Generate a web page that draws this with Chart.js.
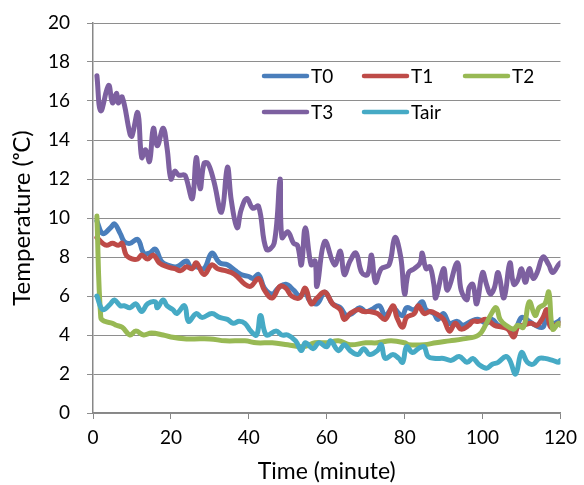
<!DOCTYPE html>
<html>
<head>
<meta charset="utf-8">
<script src="https://cdn.jsdelivr.net/npm/chart.js@4.4.1/dist/chart.umd.min.js"></script>
<style>
  html, body { margin: 0; padding: 0; background: #fff; }
  #wrap { position: relative; width: 584px; height: 485px; }
</style>
</head>
<body>
<div id="wrap"><canvas id="c" width="584" height="485"></canvas></div>
<script>
// ---- Data ----
const seriesNames = ["T0", "T1", "T2", "T3", "Tair"];
const xTicks = [0, 20, 40, 60, 80, 100, 120];
const yTicks = [0, 2, 4, 6, 8, 10, 12, 14, 16, 18, 20];

const t0Time = [1,2.5,4.5,5.5,7,8,9.5,11.5,13,14.5,16,17.5,19,21.5,24,25,26.5,28.5,30.5,32.5,34.5,36.5,38,40,41,42.5,44,46,47.5,49.5,51.5,53,54.5,55.5,57.5,59.5,61.5,63.5,65,66.5,68.5,70,71.5,73.5,75,77,78.5,79.5,80.5,82.5,84.5,85.5,87.5,88.5,90,91.5,93.5,95,97,99,101,102.5,104,106,108,110,112,113.5,115.5,116.5,118,119.5,120];
const t0Vals = [9.85,9.2,9.5,9.7,9.2,8.8,8.7,8.9,8.2,8.2,8.4,7.8,7.6,7.5,7.8,7.5,7.5,7.4,8.2,7.7,7.6,7.3,7.1,7.0,6.9,7.1,6.4,6.1,6.4,6.6,6.3,6.0,6.2,5.8,5.6,6.2,5.6,5.4,5.0,5.1,5.4,5.2,5.3,5.5,5.0,5.4,5.1,5.0,5.4,5.3,5.7,5.3,5.1,4.8,5.1,4.6,4.7,4.5,4.7,4.8,4.6,4.8,4.5,4.4,4.1,4.9,4.7,4.5,4.4,5.0,4.6,4.7,4.8];

const t1Time = [1,2.5,3.5,5,6.5,7.5,8.5,10,11.5,12.5,14,15.5,17,19,21,22.5,24,25.5,26.5,28.5,30.5,32,34,35.5,37,39,40.5,42.5,44,46,48,49.5,51,53,54.5,56,57.5,59.5,61.5,63.5,64.5,66,68,69.5,71,73,75,77,78,79.5,80.5,82.5,83.5,85,86.5,88,90,91.5,93,94.5,96.5,97.5,99,101,103,105,106.5,108,109,110.5,112.5,114,115.5,116.5,117.5,119.5,120];
const t1Vals = [9.0,8.7,8.6,8.7,8.6,8.7,8.1,7.9,7.9,8.1,7.9,8.1,7.7,7.5,7.4,7.3,7.5,7.4,7.7,7.1,7.6,7.4,7.3,7.2,7.0,6.6,6.5,6.9,6.3,5.9,6.5,6.4,6.0,5.9,6.4,5.6,5.9,6.2,5.6,5.3,4.8,5.1,5.3,5.2,5.2,5.1,4.8,5.5,4.9,4.4,4.9,5.1,5.5,5.1,5.2,5.1,4.8,4.2,4.6,4.3,4.5,4.7,4.7,4.8,4.5,4.4,4.3,3.9,4.4,4.5,4.6,4.5,4.9,5.3,4.4,4.6,4.6];

const t2Time = [1,2,3,5,6,7.5,9.5,11,13,15,18,20,24,26,30,34,39,42,46,50,54,57,60,63,66,70,73,76.5,80,81,85,88,91.5,95,99,101,102,103.5,104.5,106,108,109,110.5,112,113.5,114.5,116,117,118,119.5,120];
const t2Vals = [10.1,4.9,4.7,4.6,4.5,4.4,4.0,4.2,4.0,4.1,4.0,3.9,3.8,3.8,3.8,3.7,3.7,3.6,3.6,3.5,3.4,3.6,3.6,3.7,3.5,3.6,3.6,3.7,3.6,3.5,3.5,3.6,3.7,3.8,4.0,4.6,5.0,5.4,4.8,4.5,4.3,4.5,4.4,5.7,5.0,5.4,5.6,6.2,4.3,4.6,4.5];

const t3Time = [1,2,4,5,6,6.5,7.5,9.5,10,11.5,12.5,13.5,14.5,15.5,16.5,18,19,20,21,22,23.5,24,25.5,26.5,27.5,28.5,29.5,31,33,34.5,35.5,37,38,39.5,41,42.5,44.5,46.5,48,48.5,50,51.5,52.5,53.5,54.5,56,57,57.5,59.5,62,63.5,64.5,66,67.5,69,70.5,71.5,72.5,74,76,77.5,79,80,81,82.5,84,84.5,85.5,86.5,87.5,88,90,91,93.5,94.5,96,96.5,97.5,98.5,100,101,102,103,104,105.5,107,108,109,110,111,112,113,114,115.5,117,118,119.5,120];
const t3Vals = [17.3,15.5,16.8,15.9,16.4,15.9,16.2,14.3,14.2,15.4,13.1,13.5,12.9,14.6,13.7,14.6,13.6,12.0,12.4,12.2,12.2,12.0,11.0,13.1,11.5,12.8,12.8,11.9,10.3,12.6,10.9,9.5,10.4,11.0,10.5,10.6,8.4,8.7,12.0,9.0,9.3,8.7,8.6,7.6,9.5,7.6,7.8,6.5,8.8,7.6,8.3,7.1,7.8,8.2,7.2,7.1,8.1,6.7,7.4,7.6,9.0,8.0,6.1,7.2,7.4,7.7,8.2,7.4,7.5,6.6,5.9,7.4,6.3,7.7,6.3,5.8,6.4,6.6,5.6,7.2,6.6,6.1,6.4,7.2,5.9,7.7,6.6,6.8,7.4,6.7,7.4,6.9,7.2,8.0,7.6,7.2,7.6,7.7];

const tairTime = [1,2.5,4.5,5.5,7,8,9.5,11,12.5,14,16,16.5,18,19,20.5,21.5,23.5,24.5,26.5,28,30.5,32.5,34.5,36,37.5,39,40.5,42,43,44.5,47,48.5,50,52,53.5,54.5,56.5,58,60,61,63,64.5,66,68,69.5,71,73,74,75,77,78.5,79.5,80.5,82,83.5,85,86,88,90,92,94,96,97.5,99,101,102.5,104,106,107,108.5,110,111.5,113,114.5,116,118,119.5,120];
const tairVals = [6.0,5.3,5.6,5.8,5.5,5.5,5.4,5.6,5.2,5.6,5.7,5.4,5.8,5.5,5.3,5.1,5.5,4.7,5.1,4.9,5.1,4.9,4.8,4.6,4.7,4.6,4.2,4.0,5.0,4.0,4.2,4.0,4.0,3.7,3.2,3.6,3.3,3.6,3.4,3.7,3.2,3.5,3.2,3.0,3.3,3.0,3.2,3.5,2.8,3.0,2.8,2.6,3.4,3.1,3.3,3.4,2.9,2.8,2.8,2.7,2.9,2.6,2.8,2.5,2.3,2.5,2.6,2.9,2.7,2.0,3.1,2.6,2.5,2.8,2.8,2.7,2.6,2.7];

const seriesColors = ["#4A7EBB", "#BE4B48", "#98B954", "#7D60A0", "#46AAC5"];

// ---- Build chart ----
const times = [t0Time, t1Time, t2Time, t3Time, tairTime];
const vals = [t0Vals, t1Vals, t2Vals, t3Vals, tairVals];
const datasets = seriesNames.map((name, i) => ({
  label: name,
  data: times[i].map((t, j) => ({ x: t, y: vals[i][j] })),
  borderColor: seriesColors[i],
  backgroundColor: seriesColors[i],
  borderWidth: 5,
  pointRadius: 0,
  tension: 0.4,
  fill: false,
  order: seriesNames.length - 1 - i,
  borderCapStyle: 'round',
  borderJoinStyle: 'round'
}));

const FONT = "Lato, 'Liberation Sans', sans-serif";
const AXIS = "#878787";

const insideLegend = {
  id: 'insideLegend',
  afterDraw(chart) {
    const ctx = chart.ctx;
    const slots = [[262, 76], [362, 76], [463, 76], [262, 112], [362, 112]];
    ctx.save();
    ctx.font = "19px " + FONT;
    ctx.textBaseline = 'middle';
    ctx.textAlign = 'left';
    chart.data.datasets.forEach((ds, i) => {
      const [x, y] = slots[i];
      ctx.strokeStyle = ds.borderColor;
      ctx.lineWidth = 4.5;
      ctx.lineCap = 'round';
      ctx.beginPath();
      ctx.moveTo(x + 2, y);
      ctx.lineTo(x + 45, y);
      ctx.stroke();
      ctx.fillStyle = '#000';
      ctx.fillText(ds.label, x + 49, y + 1);
    });
    ctx.restore();
  }
};

new Chart(document.getElementById('c'), {
  type: 'line',
  data: { datasets },
  plugins: [insideLegend],
  options: {
    responsive: false,
    animation: false,
    layout: { padding: { top: 23, right: 19, left: 0, bottom: 0 } },
    plugins: { legend: { display: false }, tooltip: { enabled: false } },
    scales: {
      x: {
        type: 'linear',
        min: xTicks[0], max: xTicks[xTicks.length - 1],
        afterBuildTicks: (s) => { s.ticks = xTicks.map(v => ({ value: v })); },
        afterFit: (s) => { s.height = 72; },
        grid: { drawOnChartArea: false, drawTicks: true, tickLength: 6, color: AXIS, lineWidth: 1 },
        border: { display: true, color: AXIS, width: 1.5 },
        ticks: { font: { family: FONT, size: 19 }, color: '#000', padding: 7, maxRotation: 0 },
        title: { display: true, text: 'Time (minute)', font: { family: FONT, size: 23 }, color: '#000', padding: { top: 0, bottom: 0 } }
      },
      y: {
        min: yTicks[0], max: yTicks[yTicks.length - 1],
        afterBuildTicks: (s) => { s.ticks = yTicks.map(v => ({ value: v })); },
        afterFit: (s) => { s.width = 93; s.paddingTop = 0; s.paddingBottom = 0; },
        grid: { drawOnChartArea: true, drawTicks: true, tickLength: 6, color: '#8e8e8e', lineWidth: 1 },
        border: { display: true, color: AXIS, width: 1.5 },
        ticks: { font: { family: FONT, size: 19 }, color: '#000', padding: 17 },
        title: { display: true, text: 'Temperature (ᵒC)', font: { family: FONT, size: 24 }, color: '#000', padding: { top: 8, bottom: 0 } }
      }
    }
  }
});
</script>
</body>
</html>
